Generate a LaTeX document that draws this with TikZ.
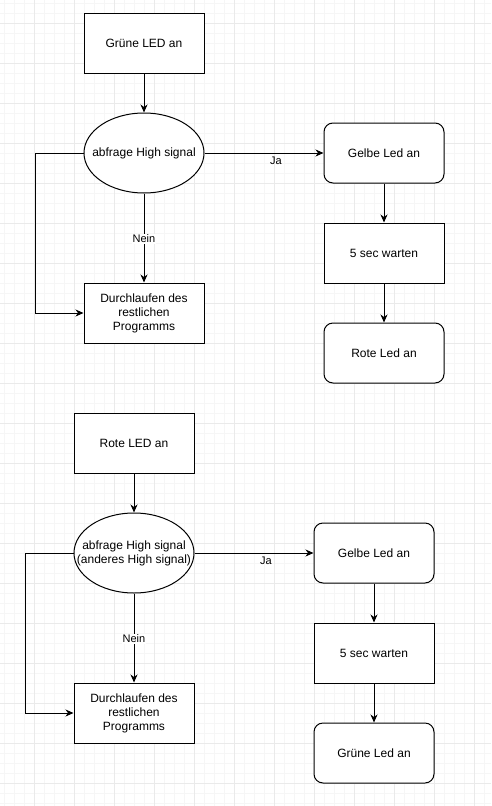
\documentclass[tikz,border=0pt]{standalone}
\usepackage{fontspec}
\setmainfont{Liberation Sans}
\usetikzlibrary{shapes.geometric,arrows.meta}
\definecolor{gridminor}{HTML}{F6F6F6}
\definecolor{gridmajor}{HTML}{EAEAEA}
\tikzset{
  base/.style={draw=black, line width=1pt, fill=white, inner sep=0pt, align=center,
    font=\fontsize{12pt}{14pt}\selectfont},
  box/.style={base, rectangle, minimum width=120pt, minimum height=60pt},
  rbox/.style={box, rounded corners=9pt},
  oval/.style={base, ellipse, minimum width=120pt, minimum height=80pt},
  ovaltext/.style={inner sep=0pt, align=center, font=\fontsize{12pt}{14pt}\selectfont},
  arr/.style={draw=black, line width=1pt, -{Stealth[length=8pt,width=7pt,inset=2.5pt]}},
  lbl/.style={font=\fontsize{11pt}{13pt}\selectfont, inner sep=1pt},
  lblbg/.style={lbl, fill=white},
}
\begin{document}
\begin{tikzpicture}[x=1pt,y=-1pt]
\useasboundingbox (0,0) rectangle (491,806);
\fill[white] (0,0) rectangle (491,806);
% grid
\foreach \gx in {4,14,...,484} \draw[gridminor, line width=0.7pt] (\gx,0) -- (\gx,806);
\foreach \gy in {3,13,...,803} \draw[gridminor, line width=0.7pt] (0,\gy) -- (491,\gy);
\foreach \gx in {34,74,...,474} \draw[gridmajor, line width=0.9pt] (\gx,0) -- (\gx,806);
\foreach \gy in {23,63,...,783} \draw[gridmajor, line width=0.9pt] (0,\gy) -- (491,\gy);

% top flow
\node[box]  (g1) at (144,43)  {Grüne LED an};
\node[oval] (q1) at (144,153) {};
\node[ovaltext] (q1t) at (q1.center) {abfrage High signal};
\node[box]  (d1) at (144,313) {Durchlaufen des\\restlichen\\Programms};
\node[rbox] (y1) at (384,153) {Gelbe Led an};
\node[box]  (w1) at (384,253) {5 sec warten};
\node[rbox] (r1) at (384,353) {Rote Led an};
\coordinate (l1) at (35,153);

\draw[arr] (g1) -- (q1);
\draw[arr] (q1) -- node[lbl, pos=0.6, yshift=-8pt] {Ja} (y1);
\draw[arr] (y1) -- (w1);
\draw[arr] (w1) -- (r1);
\draw[arr] (q1) -- node[lblbg, pos=0.51] {Nein} (d1);
\draw[arr] (q1.west) -- (l1) |- (d1.west);

% bottom flow
\node[box]  (g2) at (134,443) {Rote LED an};
\node[oval] (q2) at (134,553) {};
\node[ovaltext] (q2t) at (q2.center) {abfrage High signal\\(anderes High signal)};
\node[box]  (d2) at (134,713) {Durchlaufen des\\restlichen\\Programms};
\node[rbox] (y2) at (374,553) {Gelbe Led an};
\node[box]  (w2) at (374,653) {5 sec warten};
\node[rbox] (r2) at (374,753) {Grüne Led an};
\coordinate (l2) at (25,553);

\draw[arr] (g2) -- (q2);
\draw[arr] (q2) -- node[lbl, pos=0.6, yshift=-8pt] {Ja} (y2);
\draw[arr] (y2) -- (w2);
\draw[arr] (w2) -- (r2);
\draw[arr] (q2) -- node[lblbg, pos=0.51] {Nein} (d2);
\draw[arr] (q2.west) -- (l2) |- (d2.west);
\end{tikzpicture}
\end{document}
